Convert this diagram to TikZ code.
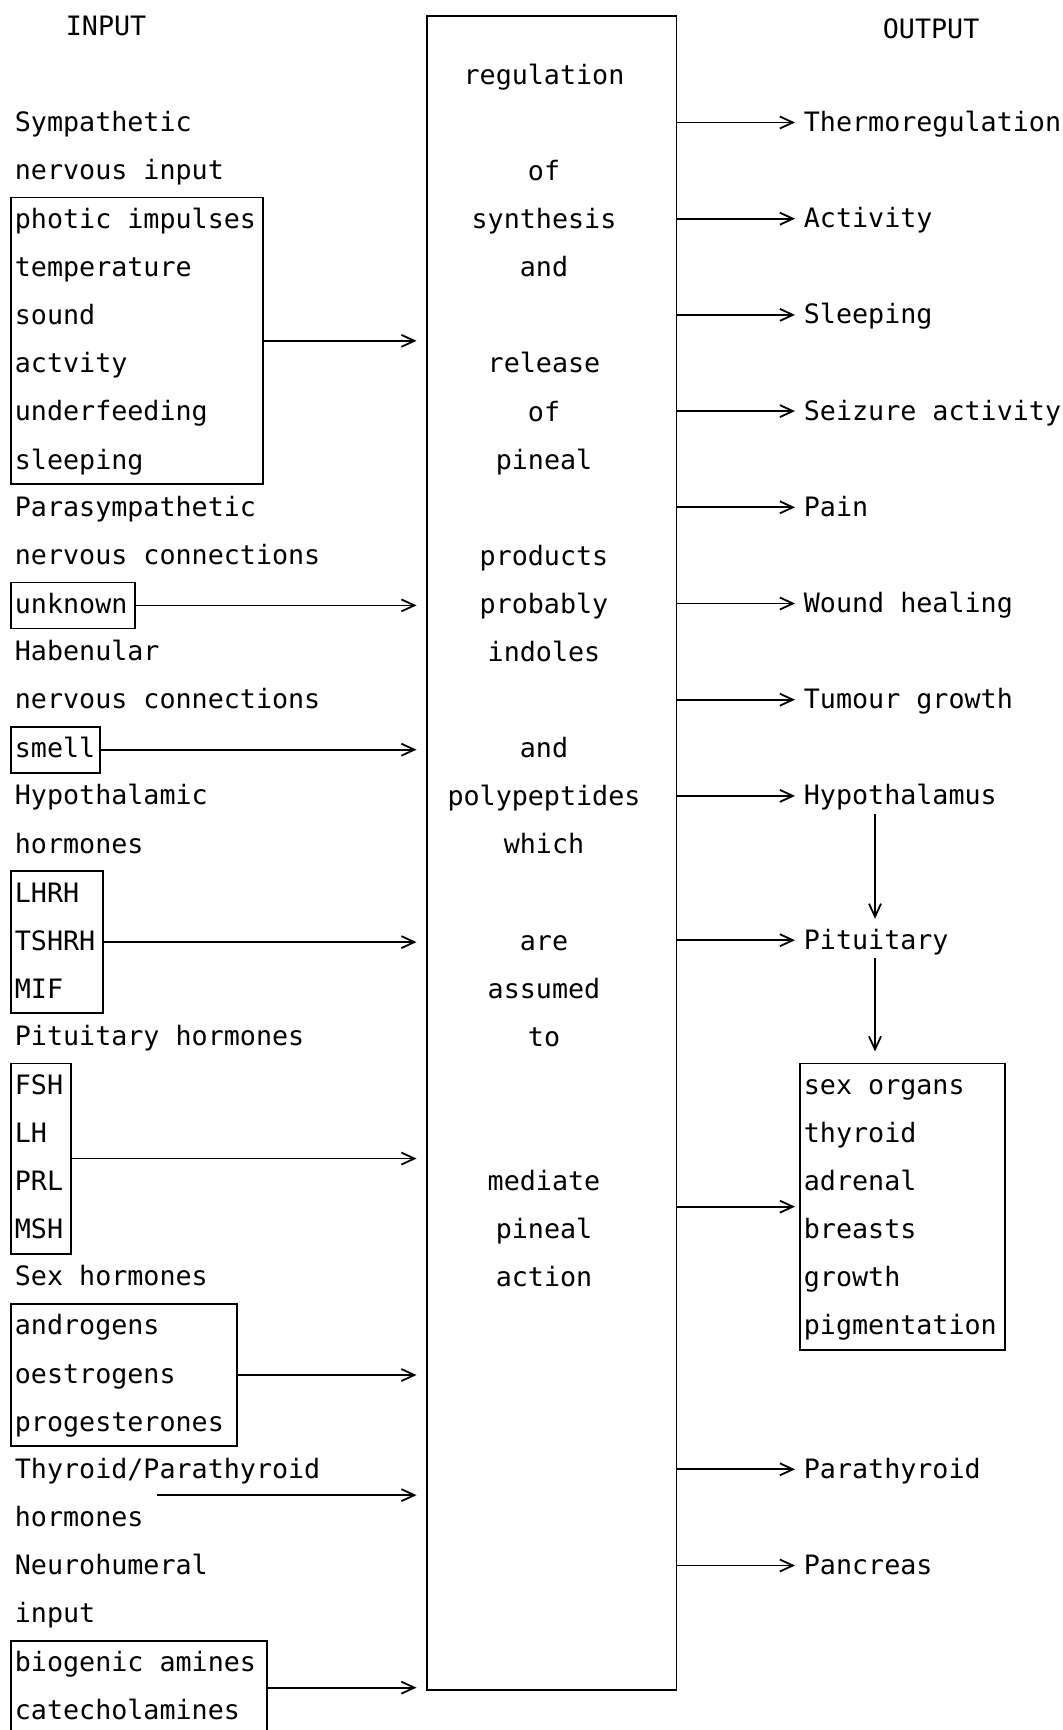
\documentclass[tikz,border=0pt]{standalone}
\usepackage{fontspec}
\setmonofont{DejaVu Sans Mono}
\usetikzlibrary{arrows.meta}

\newcommand\typed{\ttfamily\fontsize{26.7pt}{48.1pt}\selectfont}
\newcommand\rowstrut{\rule[-12pt]{0pt}{40pt}}

\begin{document}
\begin{tikzpicture}[x=1pt,y=-48.1pt,line width=1.8pt,>={Straight Barb[length=13pt,width=12pt]},
    every node/.append style={font=\typed},
    lab/.style={anchor=base west, inner sep=0pt},
    grp/.style={draw, anchor=north west, align=flush left, inner xsep=4pt, inner ysep=3pt, yshift=31pt},
    outlab/.style={anchor=base west, inner xsep=8pt, inner ysep=4pt, text height=22pt, text depth=4pt}]
    \useasboundingbox (0,-2.7339) rectangle (1063,33.233);

    \node [lab] (input)  at (65,-2)     {INPUT};
    \node [lab] (output) at (882,-1.94) {OUTPUT};

    % the pineal box
    \node [draw, anchor=north west, minimum width=249.5pt, minimum height=1673.5pt, inner sep=0pt] (pineal) at (426,-2.412) {};
    \node [align=center, anchor=north, inner sep=0pt, yshift=28pt] (role) at (544,-1)
        {\rowstrut regulation\\ \\of\\synthesis\\and\\ \\release\\of\\pineal\\ \\products\\probably\\indoles\\ \\and\\polypeptides\\which\\ \\are\\assumed\\to\\ \\ \\mediate\\pineal\\action};

    % input side
    \node [lab] (sympa) at (14,0) {Sympathetic};
    \node [lab] (sympb) at (14,1) {nervous input};
    \node [grp, text width=243.7pt] (photic) at (10,2) {\rowstrut photic impulses\\temperature\\sound\\actvity\\underfeeding\\sleeping\rowstrut};
    \node [lab] (paraa) at (14,8) {Parasympathetic};
    \node [lab] (parab) at (14,9) {nervous connections};
    \node [grp, text width=116.3pt] (unknown) at (10,10) {\rowstrut unknown\rowstrut};
    \node [lab] (haba) at (14,11) {Habenular};
    \node [lab] (habb) at (14,12) {nervous connections};
    \node [grp, text width=81pt] (smell) at (10,13) {\rowstrut smell\rowstrut};
    \node [lab] (hypoa) at (14,14) {Hypothalamic};
    \node [lab] (hypob) at (14,15) {hormones};
    \node [grp, text width=84.3pt] (releasing) at (10,16) {\rowstrut LHRH\\TSHRH\\MIF\rowstrut};
    \node [lab] (pith) at (14,19) {Pituitary hormones};
    \node [grp, text width=52pt] (trophic) at (10,20) {\rowstrut FSH\\LH\\PRL\\MSH\rowstrut};
    \node [lab] (sexh) at (14,24) {Sex hormones};
    \node [grp, text width=218pt] (steroids) at (10,25) {\rowstrut androgens\\oestrogens\\progesterones\rowstrut};
    \node [lab] (thyra) at (14,28) {Thyroid/Parathyroid};
    \node [lab] (thyrb) at (14,29) {hormones};
    \node [lab] (neura) at (14,30) {Neurohumeral};
    \node [lab] (neurb) at (14,31) {input};
    \node [grp, text width=248pt] (amines) at (10,32) {\rowstrut biogenic amines\\catecholamines\rowstrut};
    \coordinate (thyin) at (157,28.35);

    % output side
    \node [outlab] (thermo)    at (795,0)  {Thermoregulation};
    \node [outlab] (activ)     at (795,2)  {Activity};
    \node [outlab] (sleep)     at (795,4)  {Sleeping};
    \node [outlab] (seizure)   at (795,6)  {Seizure activity};
    \node [outlab] (pain)      at (795,8)  {Pain};
    \node [outlab] (wound)     at (795,10) {Wound healing};
    \node [outlab] (tumour)    at (795,12) {Tumour growth};
    \node [outlab] (hypothal)  at (795,14) {Hypothalamus};
    \node [outlab] (pituitary) at (795,17) {Pituitary};
    \node [grp, text width=197pt] (organs) at (799,20) {\rowstrut sex organs\\thyroid\\adrenal\\breasts\\growth\\pigmentation\rowstrut};
    \node [outlab] (parathy)   at (795,28) {Parathyroid};
    \node [outlab] (pancreas)  at (795,30) {Pancreas};

    \path[->, shorten >=9.5pt] (photic) edge (photic -| pineal.west)
                               (unknown) edge (unknown -| pineal.west)
                               (smell) edge (smell -| pineal.west)
                               (releasing) edge (releasing -| pineal.west)
                               (trophic) edge (trophic -| pineal.west)
                               (steroids) edge (steroids -| pineal.west)
                               (thyin) edge (thyin -| pineal.west)
                               (amines) edge (amines -| pineal.west);

    \path[->] (pineal.east |- thermo.west) edge (thermo.west)
              (pineal.east |- activ.west) edge (activ.west)
              (pineal.east |- sleep.west) edge (sleep.west)
              (pineal.east |- seizure.west) edge (seizure.west)
              (pineal.east |- pain.west) edge (pain.west)
              (pineal.east |- wound.west) edge (wound.west)
              (pineal.east |- tumour.west) edge (tumour.west)
              (pineal.east |- hypothal.west) edge (hypothal.west)
              (pineal.east |- pituitary.west) edge (pituitary.west)
              (pineal.east |- organs) edge[shorten >=4pt] (organs)
              (pineal.east |- parathy.west) edge (parathy.west)
              (pineal.east |- pancreas.west) edge (pancreas.west);

    \coordinate (hypdrop) at ([xshift=80pt]hypothal.south west);
    \coordinate (pitdrop) at ([xshift=80pt]pituitary.south west);
    \draw[->, shorten >=3.5pt] (hypdrop) -- (hypdrop |- pituitary.north);
    \draw[->, shorten >=11pt] (pitdrop) -- (pitdrop |- organs.north);
\end{tikzpicture}
\end{document}
